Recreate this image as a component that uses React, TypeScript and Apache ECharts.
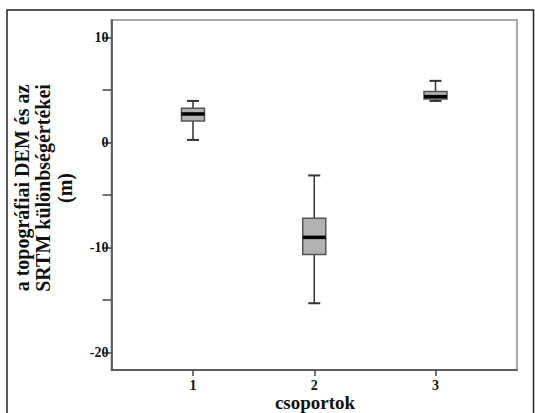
import React, { useEffect, useRef } from "react";
import * as echarts from "echarts";

const groups = [1, 2, 3];
const groupLabels = ["1", "2", "3"];
const whiskerLow = [0.24, -15.3, 3.95];
const q1 = [2.05, -10.65, 4.14];
const median = [2.71, -9.03, 4.36];
const q3 = [3.26, -7.22, 4.84];
const whiskerHigh = [3.95, -3.14, 5.86];
const yTicks = [-20, -15, -10, -5, 0, 5, 10];
const yLabels = [-20, -10, 0, 10];
const yTitle = "a topográfiai DEM és az\nSRTM különbségértékei\n(m)";
const xTitle = "csoportok";

const FONT = "'Liberation Serif', 'DejaVu Serif', serif";

export default function App() {
  const ref = useRef<HTMLDivElement>(null);
  useEffect(() => {
    if (!ref.current) return;
    const chart = echarts.init(ref.current, null, { renderer: "svg" });
    const data = groups.map((g, i) => [g, whiskerLow[i], q1[i], median[i], q3[i], whiskerHigh[i]]);
    chart.setOption({
      animation: false,
      backgroundColor: "#ffffff",
      grid: {
        left: 111.5,
        top: 20,
        right: 18,
        bottom: 43,
        show: true,
        borderColor: "#a8a8a8",
        borderWidth: 2,
        backgroundColor: "transparent",
      },
      xAxis: {
        type: "value",
        min: 0.328,
        max: 3.672,
        splitLine: { show: false },
        axisLine: { show: true, onZero: false, lineStyle: { color: "#444", width: 1.5 } },
        axisTick: { show: true, customValues: groups, length: 6, lineStyle: { color: "#444", width: 1.5 } },
        axisLabel: {
          customValues: groups,
          formatter: (v: number) => groupLabels[groups.indexOf(Math.round(v))] ?? "",
          fontFamily: FONT,
          fontWeight: "bold",
          fontSize: 14,
          lineHeight: 14,
          color: "#111",
          margin: 8,
        },
      },
      yAxis: {
        type: "value",
        min: -21.65,
        max: 11.65,
        splitLine: { show: false },
        axisLine: { show: true, onZero: false, lineStyle: { color: "#444", width: 1.5 } },
        axisTick: { show: true, customValues: yTicks, length: 9, lineStyle: { color: "#444", width: 1.5 } },
        axisLabel: {
          customValues: yLabels,
          fontFamily: FONT,
          fontWeight: "bold",
          fontSize: 14,
          color: "#111",
          margin: 3,
        },
      },
      series: [
        {
          type: "custom",
          data,
          encode: { x: 0, y: [1, 2, 3, 4, 5] },
          renderItem: (params: any, api: any) => {
            const x = api.value(0);
            const pLow = api.coord([x, api.value(1)]);
            const pQ1 = api.coord([x, api.value(2)]);
            const pMed = api.coord([x, api.value(3)]);
            const pQ3 = api.coord([x, api.value(4)]);
            const pHigh = api.coord([x, api.value(5)]);
            const cx = pMed[0];
            const half = 11.5;
            const cap = 6;
            const wStyle = { stroke: "#333", lineWidth: 1.5 };
            return {
              type: "group",
              children: [
                { type: "line", shape: { x1: cx, y1: pHigh[1], x2: cx, y2: pQ3[1] }, style: wStyle },
                { type: "line", shape: { x1: cx, y1: pQ1[1], x2: cx, y2: pLow[1] }, style: wStyle },
                { type: "line", shape: { x1: cx - cap, y1: pHigh[1], x2: cx + cap, y2: pHigh[1] }, style: { stroke: "#333", lineWidth: 2 } },
                { type: "line", shape: { x1: cx - cap, y1: pLow[1], x2: cx + cap, y2: pLow[1] }, style: { stroke: "#333", lineWidth: 2 } },
                {
                  type: "rect",
                  shape: { x: cx - half, y: pQ3[1], width: half * 2, height: pQ1[1] - pQ3[1] },
                  style: { fill: "#b2b2b2", stroke: "#555", lineWidth: 1.5 },
                },
                { type: "line", shape: { x1: cx - half, y1: pMed[1], x2: cx + half, y2: pMed[1] }, style: { stroke: "#000", lineWidth: 3.5 } },
              ],
            };
          },
        },
      ],
      graphic: [
        {
          type: "rect",
          shape: { x: 7, y: 10, width: 526.5, height: 420 },
          style: { fill: "none", stroke: "#222", lineWidth: 1.5 },
          silent: true,
        },
        {
          type: "text",
          x: 43,
          y: 188,
          rotation: Math.PI / 2,
          style: {
            text: yTitle,
            fontFamily: FONT,
            fontWeight: "bold",
            fontSize: 20,
            lineHeight: 21.5,
            fill: "#111",
            textAlign: "center",
            textVerticalAlign: "middle",
          },
        },
        {
          type: "text",
          x: 315,
          y: 393,
          style: {
            text: xTitle,
            fontFamily: FONT,
            fontWeight: "bold",
            fontSize: 19,
            lineHeight: 19,
            fill: "#111",
            textAlign: "center",
            textVerticalAlign: "top",
          },
        },
      ],
    });
    return () => chart.dispose();
  }, []);
  return (
    <div
      ref={ref}
      style={{ position: "fixed", left: 0, top: 0, width: 535, height: 413 }}
    />
  );
}
